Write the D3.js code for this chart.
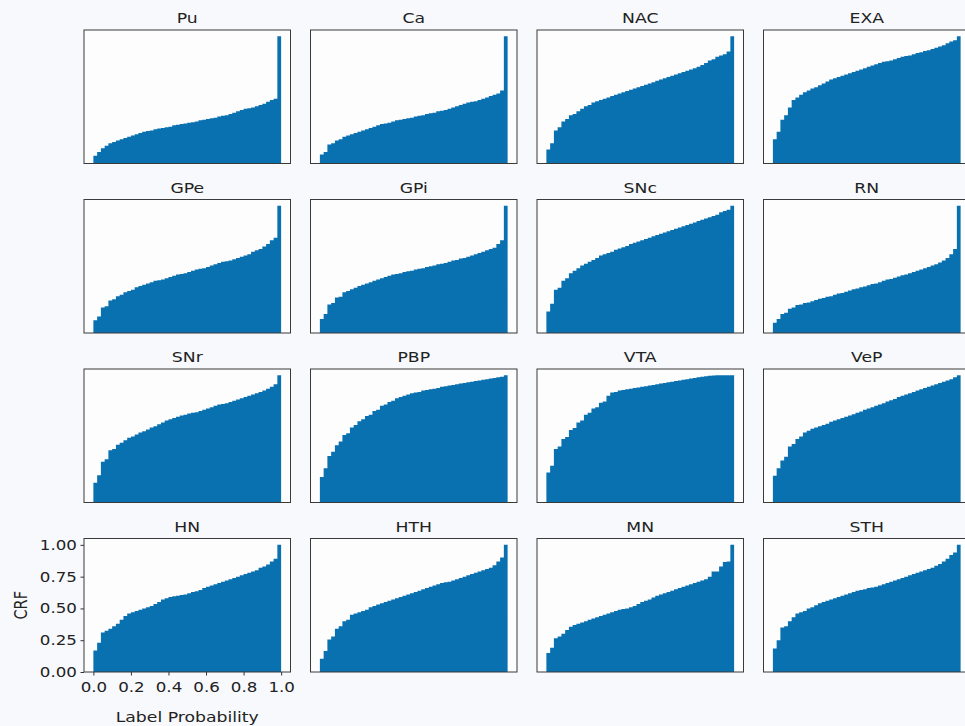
<!DOCTYPE html>
<html>
<head>
<meta charset="utf-8">
<script src="https://cdn.jsdelivr.net/npm/d3@7"></script>
<style>
  body { margin: 0; background: #f7f9fc; }
  text { font-family: "DejaVu Sans", sans-serif; fill: #222; }
</style>
</head>
<body>
<div id="chart"></div>
<script>
// region names, in reading order
var regions = ["Pu", "Ca", "NAC", "EXA", "GPe", "GPi", "SNc", "RN",
               "SNr", "PBP", "VTA", "VeP", "HN", "HTH", "MN", "STH"];

// cumulative fraction per bin (50 bins over 0..1)
var Pu = [0.06, 0.09, 0.12, 0.14, 0.16, 0.17, 0.18, 0.19, 0.20, 0.21,
  0.22, 0.23, 0.24, 0.25, 0.255, 0.26, 0.27, 0.275, 0.28, 0.285,
  0.29, 0.30, 0.305, 0.31, 0.315, 0.32, 0.325, 0.33, 0.34, 0.345,
  0.35, 0.355, 0.36, 0.37, 0.375, 0.38, 0.39, 0.40, 0.41, 0.42,
  0.43, 0.435, 0.44, 0.45, 0.46, 0.47, 0.485, 0.50, 0.51, 1.0];
var Ca = [0.07, 0.09, 0.15, 0.16, 0.18, 0.19, 0.21, 0.22, 0.23, 0.24,
  0.25, 0.26, 0.27, 0.28, 0.29, 0.30, 0.31, 0.315, 0.32, 0.33,
  0.34, 0.345, 0.35, 0.355, 0.36, 0.37, 0.375, 0.38, 0.39, 0.395,
  0.40, 0.41, 0.415, 0.42, 0.43, 0.44, 0.45, 0.46, 0.47, 0.48,
  0.485, 0.49, 0.50, 0.51, 0.52, 0.53, 0.54, 0.55, 0.575, 1.0];
var NAC = [0.11, 0.16, 0.26, 0.285, 0.33, 0.35, 0.38, 0.39, 0.41, 0.43,
  0.45, 0.46, 0.48, 0.49, 0.50, 0.51, 0.52, 0.53, 0.54, 0.55,
  0.56, 0.57, 0.58, 0.59, 0.60, 0.61, 0.62, 0.63, 0.64, 0.65,
  0.66, 0.67, 0.68, 0.69, 0.70, 0.71, 0.72, 0.73, 0.74, 0.75,
  0.76, 0.775, 0.79, 0.81, 0.82, 0.84, 0.85, 0.86, 0.88, 1.0];
var EXA = [0.19, 0.25, 0.345, 0.38, 0.44, 0.50, 0.52, 0.54, 0.56, 0.575,
  0.59, 0.60, 0.615, 0.63, 0.645, 0.66, 0.67, 0.68, 0.69, 0.70,
  0.71, 0.72, 0.73, 0.74, 0.75, 0.76, 0.77, 0.78, 0.79, 0.80,
  0.805, 0.81, 0.82, 0.83, 0.84, 0.845, 0.85, 0.86, 0.87, 0.875,
  0.885, 0.89, 0.90, 0.91, 0.92, 0.93, 0.945, 0.96, 0.97, 1.0];
var GPe = [0.10, 0.13, 0.20, 0.21, 0.255, 0.265, 0.29, 0.30, 0.32, 0.33,
  0.34, 0.36, 0.37, 0.38, 0.39, 0.40, 0.41, 0.415, 0.42, 0.43,
  0.44, 0.45, 0.46, 0.465, 0.47, 0.48, 0.49, 0.50, 0.505, 0.51,
  0.52, 0.53, 0.54, 0.55, 0.56, 0.565, 0.57, 0.58, 0.59, 0.60,
  0.61, 0.62, 0.64, 0.65, 0.66, 0.68, 0.70, 0.73, 0.75, 1.0];
var GPi = [0.11, 0.15, 0.225, 0.235, 0.28, 0.285, 0.32, 0.33, 0.345, 0.355,
  0.37, 0.38, 0.39, 0.40, 0.41, 0.42, 0.43, 0.44, 0.45, 0.46,
  0.465, 0.47, 0.48, 0.485, 0.49, 0.50, 0.505, 0.51, 0.52, 0.525,
  0.53, 0.54, 0.545, 0.55, 0.56, 0.57, 0.575, 0.585, 0.59, 0.60,
  0.61, 0.62, 0.63, 0.64, 0.65, 0.66, 0.67, 0.70, 0.73, 1.0];
var SNc = [0.17, 0.23, 0.34, 0.355, 0.41, 0.43, 0.47, 0.49, 0.51, 0.53,
  0.545, 0.56, 0.575, 0.59, 0.61, 0.62, 0.63, 0.64, 0.655, 0.665,
  0.675, 0.685, 0.70, 0.71, 0.72, 0.73, 0.74, 0.75, 0.76, 0.77,
  0.78, 0.79, 0.80, 0.81, 0.82, 0.83, 0.84, 0.85, 0.86, 0.87,
  0.88, 0.89, 0.90, 0.91, 0.92, 0.93, 0.95, 0.96, 0.97, 1.0];
var RN = [0.08, 0.11, 0.15, 0.16, 0.19, 0.20, 0.22, 0.225, 0.235, 0.24,
  0.25, 0.26, 0.27, 0.275, 0.285, 0.29, 0.30, 0.31, 0.315, 0.325,
  0.335, 0.345, 0.35, 0.36, 0.365, 0.375, 0.385, 0.39, 0.40, 0.41,
  0.42, 0.425, 0.435, 0.445, 0.455, 0.46, 0.47, 0.48, 0.49, 0.50,
  0.51, 0.52, 0.53, 0.54, 0.555, 0.57, 0.59, 0.62, 0.66, 1.0];
var SNr = [0.155, 0.215, 0.32, 0.34, 0.41, 0.42, 0.455, 0.47, 0.49, 0.51,
  0.52, 0.535, 0.55, 0.56, 0.575, 0.59, 0.60, 0.615, 0.63, 0.645,
  0.655, 0.665, 0.675, 0.685, 0.69, 0.70, 0.705, 0.71, 0.72, 0.73,
  0.74, 0.75, 0.76, 0.77, 0.775, 0.78, 0.79, 0.80, 0.81, 0.82,
  0.83, 0.84, 0.85, 0.86, 0.87, 0.88, 0.895, 0.91, 0.93, 1.0];
var PBP = [0.20, 0.27, 0.365, 0.40, 0.45, 0.48, 0.53, 0.545, 0.59, 0.61,
  0.64, 0.655, 0.68, 0.69, 0.72, 0.73, 0.76, 0.77, 0.79, 0.80,
  0.82, 0.83, 0.84, 0.85, 0.86, 0.865, 0.87, 0.88, 0.885, 0.89,
  0.895, 0.90, 0.91, 0.915, 0.92, 0.925, 0.93, 0.935, 0.94, 0.945,
  0.95, 0.955, 0.96, 0.965, 0.97, 0.975, 0.98, 0.985, 0.99, 1.0];
var VTA = [0.235, 0.29, 0.42, 0.44, 0.50, 0.515, 0.57, 0.585, 0.63, 0.645,
  0.69, 0.705, 0.74, 0.75, 0.785, 0.795, 0.84, 0.865, 0.87, 0.88,
  0.885, 0.89, 0.895, 0.90, 0.905, 0.91, 0.915, 0.92, 0.925, 0.93,
  0.935, 0.94, 0.945, 0.95, 0.955, 0.96, 0.965, 0.97, 0.975, 0.98,
  0.985, 0.99, 0.993, 0.996, 0.998, 1.0, 1.0, 1.0, 1.0, 1.0];
var VeP = [0.21, 0.27, 0.33, 0.36, 0.44, 0.46, 0.50, 0.52, 0.55, 0.565,
  0.58, 0.59, 0.60, 0.61, 0.62, 0.635, 0.645, 0.655, 0.665, 0.675,
  0.685, 0.695, 0.705, 0.715, 0.73, 0.74, 0.75, 0.76, 0.77, 0.78,
  0.795, 0.805, 0.815, 0.83, 0.84, 0.85, 0.86, 0.87, 0.88, 0.89,
  0.90, 0.91, 0.92, 0.93, 0.94, 0.95, 0.96, 0.97, 0.985, 1.0];
var HN = [0.17, 0.23, 0.31, 0.325, 0.34, 0.36, 0.38, 0.41, 0.44, 0.46,
  0.47, 0.48, 0.49, 0.50, 0.51, 0.52, 0.535, 0.55, 0.57, 0.58,
  0.59, 0.595, 0.60, 0.605, 0.61, 0.62, 0.63, 0.635, 0.645, 0.66,
  0.67, 0.68, 0.69, 0.70, 0.71, 0.72, 0.73, 0.74, 0.75, 0.76,
  0.77, 0.78, 0.79, 0.80, 0.82, 0.83, 0.845, 0.87, 0.89, 1.0];
var HTH = [0.105, 0.165, 0.255, 0.28, 0.34, 0.36, 0.40, 0.41, 0.45, 0.46,
  0.47, 0.48, 0.49, 0.51, 0.52, 0.53, 0.54, 0.55, 0.56, 0.57,
  0.58, 0.59, 0.60, 0.61, 0.62, 0.63, 0.64, 0.65, 0.66, 0.67,
  0.68, 0.69, 0.70, 0.705, 0.71, 0.72, 0.73, 0.74, 0.75, 0.76,
  0.77, 0.78, 0.79, 0.80, 0.81, 0.82, 0.84, 0.87, 0.90, 1.0];
var MN = [0.15, 0.19, 0.265, 0.28, 0.30, 0.33, 0.355, 0.37, 0.38, 0.39,
  0.40, 0.41, 0.42, 0.43, 0.44, 0.45, 0.46, 0.47, 0.48, 0.49,
  0.495, 0.50, 0.51, 0.52, 0.535, 0.55, 0.56, 0.57, 0.585, 0.60,
  0.61, 0.62, 0.63, 0.64, 0.65, 0.66, 0.67, 0.68, 0.69, 0.70,
  0.71, 0.72, 0.73, 0.75, 0.79, 0.79, 0.83, 0.865, 0.87, 1.0];
var STH = [0.185, 0.25, 0.35, 0.36, 0.40, 0.43, 0.46, 0.47, 0.48, 0.50,
  0.51, 0.525, 0.54, 0.55, 0.56, 0.57, 0.58, 0.59, 0.60, 0.61,
  0.62, 0.63, 0.64, 0.645, 0.65, 0.66, 0.665, 0.67, 0.68, 0.69,
  0.70, 0.71, 0.72, 0.73, 0.74, 0.75, 0.76, 0.77, 0.78, 0.79,
  0.80, 0.81, 0.82, 0.835, 0.85, 0.87, 0.89, 0.92, 0.94, 1.0];

var series = [Pu, Ca, NAC, EXA, GPe, GPi, SNc, RN, SNr, PBP, VTA, VeP, HN, HTH, MN, STH];

var xTicks = [0, 0.2, 0.4, 0.6, 0.8, 1.0];
var yTicks = [0, 0.25, 0.5, 0.75, 1.0];
var nBins = 50;

var svgWidth = 965;
var svgHeight = 726;

var panelW = 206.5;
var panelH = 133.5;
var colStep = 226.5;
var rowStep = 169.5;
var origin = { left: 84, top: 30 };

// the original figure is stretched sideways, so text is too
var stretch = 1.19;

var svg = d3.select("#chart")
  .append("svg")
  .attr("width", svgWidth)
  .attr("height", svgHeight);

svg.append("rect")
  .attr("width", svgWidth)
  .attr("height", svgHeight)
  .attr("fill", "#f7f9fc");

var xScale = d3.scaleLinear().domain([-0.05, 1.05]).range([0, panelW]);
var yScale = d3.scaleLinear().domain([0, 1.05]).range([panelH, 0]);

// bars as one stepped shape so neighbouring bins have no seams
var stepArea = d3.area()
  .x(d => xScale(d.x))
  .y0(yScale(0))
  .y1(d => yScale(d.v))
  .curve(d3.curveStepAfter);

function stretchedText(parent, x, y, size, label) {
  return parent.append("text")
    .attr("transform", `translate(${x}, ${y}) scale(${stretch}, 1)`)
    .attr("text-anchor", "middle")
    .style("font-size", size + "px")
    .text(label);
}

regions.forEach(function(name, i) {
  var col = i % 4;
  var row = Math.floor(i / 4);
  var values = series[i];

  var points = values.map((v, j) => ({ x: j / nBins, v: v }));
  points.push({ x: 1, v: values[values.length - 1] });

  var g = svg.append("g")
    .attr("transform", `translate(${origin.left + col * colStep}, ${origin.top + row * rowStep})`);

  g.append("rect")
    .attr("width", panelW)
    .attr("height", panelH)
    .attr("fill", "#fdfdfe");

  g.append("path")
    .datum(points)
    .attr("d", stepArea)
    .attr("fill", "#0a71b0");

  stretchedText(g, panelW / 2, -7, 14.5, name);

  // only the bottom-left panel carries axes
  if (i === 12) {
    var bottomAxis = d3.axisBottom(xScale)
      .tickValues(xTicks)
      .tickFormat(d3.format(".1f"))
      .tickSize(3.5)
      .tickPadding(7);
    var leftAxis = d3.axisLeft(yScale)
      .tickValues(yTicks)
      .tickFormat(d3.format(".2f"))
      .tickSize(3.5)
      .tickPadding(2.5);

    var xAxis = g.append("g")
      .attr("transform", `translate(0, ${panelH})`)
      .call(bottomAxis);
    var yAxis = g.append("g").call(leftAxis);

    [xAxis, yAxis].forEach(function(ax) {
      ax.select(".domain").remove();
      ax.selectAll("line").attr("stroke", "#333");
      ax.selectAll("text")
        .attr("transform", `scale(${stretch}, 1)`)
        .style("font-size", "14px")
        .style("font-family", "DejaVu Sans")
        .attr("fill", "#222");
    });

    stretchedText(g, panelW / 2, panelH + 50, 14.5, "Label Probability");

    g.append("text")
      .attr("transform", `translate(-57, ${panelH / 2}) rotate(-90) scale(1, ${stretch})`)
      .attr("text-anchor", "middle")
      .style("font-size", "14.5px")
      .text("CRF");
  }

  g.append("rect")
    .attr("width", panelW)
    .attr("height", panelH)
    .attr("fill", "none")
    .attr("stroke", "#3a3a3a")
    .attr("stroke-width", 1);
});
</script>
</body>
</html>
